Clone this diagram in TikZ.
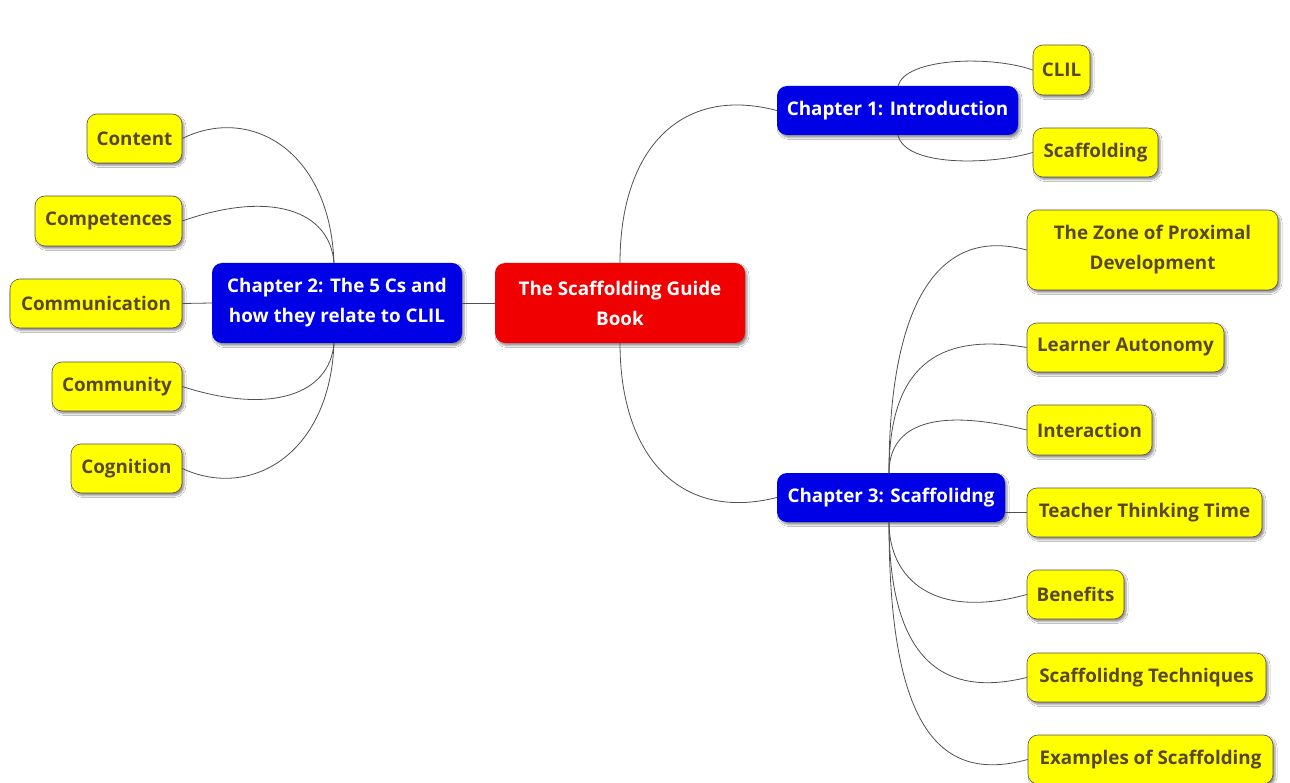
\documentclass[tikz,border=0pt]{standalone}
\usepackage{fontspec}
\setmainfont{Open Sans}
\usetikzlibrary{shadows,shadows.blur}
\definecolor{rootred}{RGB}{240,0,0}
\definecolor{chblue}{RGB}{0,0,230}
\definecolor{leafyellow}{RGB}{255,255,0}
\definecolor{leaftext}{RGB}{88,72,40}
\definecolor{leafborder}{RGB}{90,80,90}
\definecolor{linegray}{RGB}{80,80,80}
\tikzset{
  base/.style={rounded corners=10pt, inner sep=0pt, align=center,
    font=\fontsize{18.8}{30}\selectfont\bfseries,
    blur shadow={shadow xshift=2pt, shadow yshift=-2.5pt, shadow blur radius=2pt, shadow opacity=45}},
  rootbox/.style={base, fill=rootred, text=white},
  chbox/.style={base, fill=chblue, text=white},
  leafbox/.style={base, fill=leafyellow, draw=leafborder, line width=0.6pt, text=leaftext},
  conn/.style={draw=linegray, line width=0.8pt},
}
\begin{document}
\begin{tikzpicture}[x=1pt,y=-1pt]
\fill[white] (0,0) rectangle (1290,783);
\useasboundingbox (0,0) rectangle (1290,783);
% nodes
\node[rootbox, minimum width=250pt, minimum height=80pt] (root) at (620,303) {The Scaffolding Guide\\Book};
\node[chbox, minimum width=241pt, minimum height=49pt] (ch1) at (897.5,110.5) {Chapter 1: Introduction};
\node[chbox, minimum width=250pt, minimum height=80pt] (ch2) at (337,303) {Chapter 2: The 5 Cs and\\how they relate to CLIL};
\node[chbox, minimum width=228pt, minimum height=49pt] (ch3) at (891,497.5) {Chapter 3: Scaffolidng};
\node[leafbox, minimum width=57pt, minimum height=50pt] (clil) at (1061.5,70) {CLIL};
\node[leafbox, minimum width=125pt, minimum height=49pt] (scaf) at (1095.5,152.5) {Scaffolding};
\node[leafbox, minimum width=95pt, minimum height=49pt] (content) at (134.5,138.5) {Content};
\node[leafbox, minimum width=147pt, minimum height=50pt] (compet) at (108.5,221) {Competences};
\node[leafbox, minimum width=172pt, minimum height=49pt] (commun) at (96,303.5) {Communication};
\node[leafbox, minimum width=130pt, minimum height=49pt] (commty) at (117,386.5) {Community};
\node[leafbox, minimum width=111pt, minimum height=49pt] (cogn) at (126.5,468.5) {Cognition};
\node[leafbox, minimum width=251pt, minimum height=80pt] (zpd) at (1152.5,250) {The Zone of Proximal\\Development};
\node[leafbox, minimum width=197pt, minimum height=49pt] (learner) at (1125.5,347.5) {Learner Autonomy};
\node[leafbox, minimum width=125pt, minimum height=50pt] (inter) at (1089.5,430) {Interaction};
\node[leafbox, minimum width=235pt, minimum height=49pt] (teacher) at (1144.5,512.5) {Teacher Thinking Time};
\node[leafbox, minimum width=97pt, minimum height=49pt] (benef) at (1075.5,594.5) {Benefits};
\node[leafbox, minimum width=239pt, minimum height=49pt] (techn) at (1146.5,677.5) {Scaffolidng Techniques};
\node[leafbox, minimum width=245pt, minimum height=49pt] (examp) at (1150.5,759.5) {Examples of Scaffolding};
% junction points
\coordinate (c2t) at (334,263);
\coordinate (c2b) at (334,343);
\coordinate (c1t) at (898,86);
\coordinate (c1b) at (898,135);
\coordinate (c3t) at (889,473);
\coordinate (c3b) at (889,522);
% root connectors
\draw[conn] (root.north) .. controls (620,150) and (680,85) .. (ch1.west);
\draw[conn] (root.south) .. controls (620,456) and (680,522) .. (ch3.west);
\draw[conn] (root.west) -- (ch2.east);
% chapter 1
\draw[conn] (c1t) .. controls (905,58) and (990,55) .. (clil.west);
\draw[conn] (c1b) .. controls (905,167) and (990,165) .. (scaf.west);
% chapter 2
\draw[conn] (c2t) .. controls (330,150) and (250,105) .. (content.east);
\draw[conn] (c2t) .. controls (330,210) and (270,190) .. (compet.east);
\draw[conn] (ch2.west) -- (commun.east);
\draw[conn] (c2b) .. controls (330,395) and (270,415) .. (commty.east);
\draw[conn] (c2b) .. controls (330,455) and (250,500) .. (cogn.east);
% chapter 3
\draw[conn] (c3t) .. controls (889,310) and (935,225) .. (zpd.west);
\draw[conn] (c3t) .. controls (889,380) and (925,330) .. (learner.west);
\draw[conn] (c3t) .. controls (889,430) and (925,405) .. (inter.west);
\draw[conn] (ch3.east |- teacher.west) -- (teacher.west);
\draw[conn] (c3b) .. controls (889,580) and (935,620) .. (benef.west);
\draw[conn] (c3b) .. controls (889,650) and (935,700) .. (techn.west);
\draw[conn] (c3b) .. controls (889,720) and (935,785) .. (examp.west);
\end{tikzpicture}
\end{document}
